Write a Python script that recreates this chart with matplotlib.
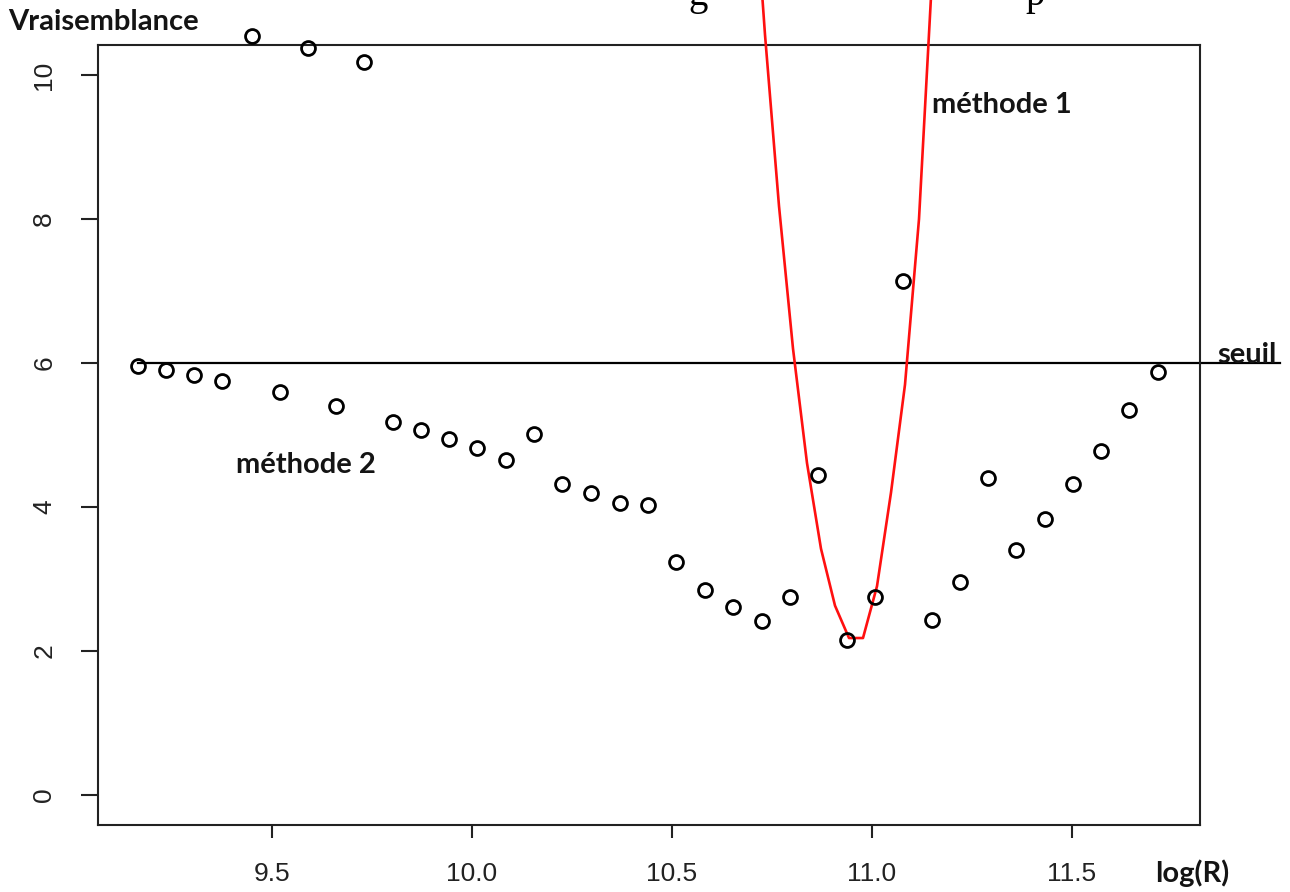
import matplotlib
matplotlib.use("Agg")
import matplotlib.pyplot as plt

# ---- data ----
x_m2 = [9.165, 9.235, 9.305, 9.375, 9.45, 9.52, 9.59, 9.66, 9.73, 9.8025,
        9.8725, 9.9425, 10.0125, 10.085, 10.155, 10.225, 10.2975, 10.37, 10.44,
        10.51, 10.5825, 10.6525, 10.725, 10.795, 10.865, 10.9375, 11.0075,
        11.0775, 11.15, 11.22, 11.29, 11.36, 11.4325, 11.5025, 11.5725,
        11.6425, 11.715]
y_m2 = [5.96, 5.90, 5.83, 5.75, 10.54, 5.60, 10.375, 5.40, 10.18, 5.18,
        5.07, 4.94, 4.82, 4.65, 5.01, 4.32, 4.19, 4.06, 4.03,
        3.24, 2.85, 2.61, 2.42, 2.75, 4.44, 2.15, 2.75,
        7.14, 2.43, 2.96, 4.40, 3.40, 3.83, 4.32, 4.78,
        5.35, 5.88]

x_m1 = [10.6975, 10.7325, 10.7675, 10.8025, 10.8375, 10.8725, 10.9075,
        10.9425, 10.9775, 11.0125, 11.0475, 11.0825, 11.1175, 11.1525]
y_m1 = [13.3, 10.56, 8.18, 6.20, 4.61, 3.42, 2.63,
        2.18, 2.18, 2.90, 4.20, 5.70, 8.00, 11.6]

seuil = 6.0
seuil_x = [9.165, 12.02]

x_ticks = [9.5, 10.0, 10.5, 11.0, 11.5]
x_ticklabels = ["9.5", "10.0", "10.5", "11.0", "11.5"]
y_ticks = [0, 2, 4, 6, 8, 10]
y_ticklabels = ["0", "2", "4", "6", "8", "10"]

W, H = 1290, 892
fig = plt.figure(figsize=(W / 100, H / 100), dpi=100)
fig.patch.set_facecolor("white")

def fx(px):
    return px / W

def fy(py):
    return 1 - py / H

L, R, T, B = 98, 1200, 45, 825
ax = fig.add_axes([fx(L), fy(B), (R - L) / W, (B - T) / H])
ax.set_xlim(9.065, 11.82)
ax.set_ylim(-0.417, 10.417)

ax.plot(x_m2, y_m2, linestyle="none", marker="o", markersize=10,
        markerfacecolor="none", markeredgecolor="black", markeredgewidth=2.0,
        clip_on=False, zorder=4)
ax.plot(x_m1, y_m1, color="#ff1010", linewidth=1.9, clip_on=False, zorder=3)
ax.plot(seuil_x, [seuil, seuil], color="black", linewidth=1.6,
        clip_on=False, zorder=2)

for s in ax.spines.values():
    s.set_linewidth(1.5)
    s.set_color("#222222")

ax.set_xticks(x_ticks)
ax.set_xticklabels(x_ticklabels)
ax.set_yticks(y_ticks)
ax.set_yticklabels(y_ticklabels, rotation=90, va="center")
ax.tick_params(axis="x", length=9.5, width=1.5, pad=17, labelsize=19,
               colors="#222222")
ax.tick_params(axis="y", length=12, width=1.5, pad=18, labelsize=19,
               colors="#222222")
for lab in ax.get_xticklabels() + ax.get_yticklabels():
    lab.set_fontfamily("Liberation Sans")

bold = dict(fontfamily="Lato", fontweight="bold", color="#141414")
fig.text(fx(8), fy(22), "Vraisemblance", fontsize=21, va="center", ha="left", **bold)
fig.text(fx(932), fy(105), "méthode 1", fontsize=21, va="center", ha="left", **bold)
fig.text(fx(236), fy(465), "méthode 2", fontsize=21, va="center", ha="left", **bold)
fig.text(fx(1217), fy(363), "seuil", fontsize=21, va="baseline", ha="left", **bold)
fig.text(fx(1155), fy(873), "log(R)", fontsize=21, va="center", ha="left", **bold)

# fragments of the cut-off line of text above the chart
fig.text(fx(688), fy(5), "g", fontsize=28, fontfamily="Liberation Serif",
         va="baseline", ha="left", color="black")
fig.text(fx(1025), fy(5), "p", fontsize=28, fontfamily="Liberation Serif",
         va="baseline", ha="left", color="black")

fig.savefig("out.png", dpi=100, facecolor="white")
